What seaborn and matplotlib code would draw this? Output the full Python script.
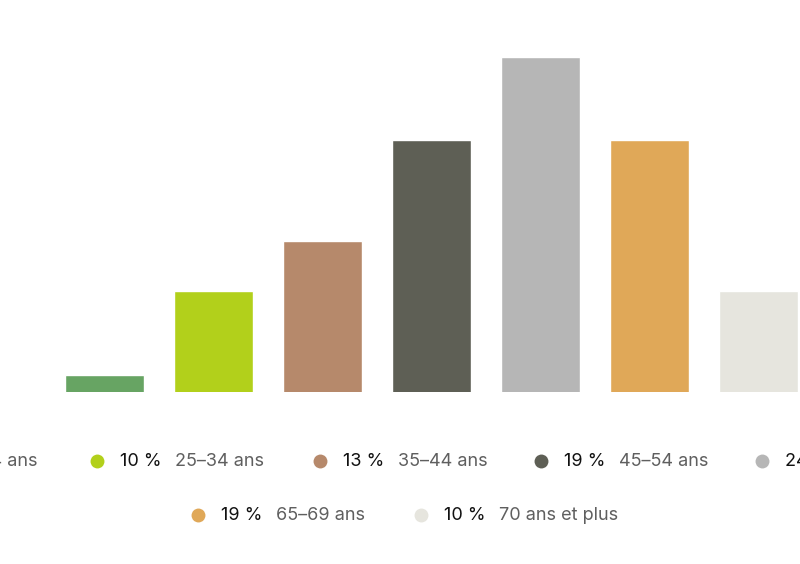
import matplotlib
matplotlib.use("Agg")
import matplotlib.pyplot as plt
import seaborn as sns
from matplotlib.lines import Line2D

# data
ages = ["18–24 ans", "25–34 ans", "35–44 ans", "45–54 ans", "55–64 ans", "65–69 ans", "70 ans et plus"]
shares = [5, 10, 13, 19, 24, 19, 10]
share_labels = ["5 %", "10 %", "13 %", "19 %", "24 %", "19 %", "10 %"]
colors = ["#67a463", "#b2d01b", "#b6896b", "#5e5f55", "#b6b6b6", "#e0a858", "#e6e5de"]

sns.set_theme(style="white")
plt.rcParams["font.family"] = ["Inter", "DejaVu Sans"]

W, H = 800, 564
fig = plt.figure(figsize=(W / 100, H / 100), dpi=100)
base_px = 391.5
ax = fig.add_axes([0, 1 - base_px / H, 1, base_px / H])

sns.barplot(x=ages, y=shares, hue=ages, palette=colors, width=0.725,
            legend=False, ax=ax, saturation=1)
# axis starts at 4 %, 109 px between bars, first bar centred at 104.5 px
ax.set_xlim(-104.5 / 109, (W - 104.5) / 109)
ax.set_ylim(4, 4 + base_px / (16.75))
ax.set_axis_off()

# legend drawn by hand: two rows, centred, overflowing the canvas like the original
fs = 13
legend_rows = [
    (461, [0, 1, 2, 3, 4], [-126, 97, 320, 541, 762]),
    (515, [5, 6], [198, 421]),
]
for y, items, dots in legend_rows:
    fy = 1 - y / H
    for i, x in zip(items, dots):
        fig.add_artist(Line2D([x / W], [fy], marker="o", markersize=10, color=colors[i],
                              markeredgewidth=0, transform=fig.transFigure))
        fig.text((x + 23) / W, fy, share_labels[i], fontsize=fs, color="#111111", va="center")
        fig.text((x + 78) / W, fy, ages[i], fontsize=fs, color="#5f5f5f", va="center")

fig.savefig("out.png", dpi=100)
